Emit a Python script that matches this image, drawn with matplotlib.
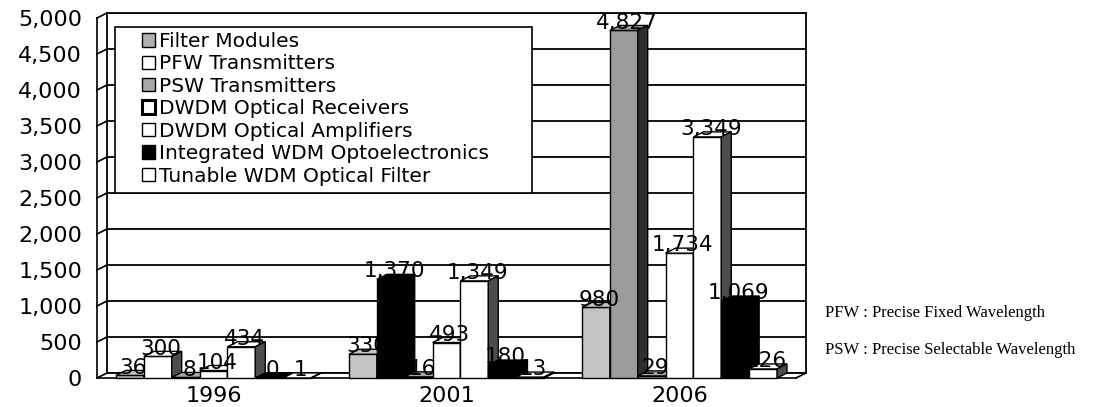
import numpy as np
import matplotlib.pyplot as plt
from matplotlib.patches import Patch, Polygon, Rectangle
from matplotlib.transforms import ScaledTranslation
from matplotlib.colors import to_rgb

# data
years = ['1996', '2001', '2006']
series = ['Filter Modules', 'PFW Transmitters', 'PSW Transmitters',
          'DWDM Optical Receivers', 'DWDM Optical Amplifiers',
          'Integrated WDM Optoelectronics', 'Tunable WDM Optical Filter']
filter_modules = [36, 330, 980]
pfw_tx = [300, 1370, 4827]
psw_tx = [8, 16, 29]
dwdm_rx = [104, 493, 1734]
dwdm_amp = [434, 1349, 3349]
integrated = [0, 180, 1069]
tunable = [1, 13, 126]
values = [filter_modules, pfw_tx, psw_tx, dwdm_rx, dwdm_amp, integrated, tunable]
yticks = np.arange(0, 5001, 500)
notes = ['PFW : Precise Fixed Wavelength', 'PSW : Precise Selectable Wavelength']

# colours (scanned print, so a few bars differ from the legend)
legend_fc = ['#b0b0b0', 'white', '#a8a8a8', 'white', 'white', 'black', 'white']
bar_fc = [['#c4c4c4'] * 3, ['white', 'black', '#9c9c9c'], ['#a8a8a8'] * 3,
          ['white'] * 3, ['white'] * 3, ['black'] * 3, ['white'] * 3]

W, H = 1118, 407
L, R, T, B = 107, 806, 13, 373   # back wall in pixels
fig = plt.figure(figsize=(W / 100, H / 100), dpi=100)
ax = fig.add_axes([L / W, 1 - B / H, (R - L) / W, (B - T) / H])
ax.set_xlim(-0.5, 2.5)
ax.set_ylim(0, 5000)

# depth of the 3d box in data units
DX = 10 / ((R - L) / 3)
DY = 5 / ((B - T) / 5000)

ax.set_yticks(yticks)
ax.set_yticklabels([f'{v:,}' for v in yticks], fontsize=16)
ax.tick_params(axis='y', length=0, pad=18)
for lab in ax.get_yticklabels():
    lab.set_transform(lab.get_transform() + ScaledTranslation(0, -5 / 100, fig.dpi_scale_trans))
ax.set_xticks([g - DX for g in range(len(years))])
ax.set_xticklabels(years, fontsize=16)
ax.tick_params(axis='x', length=0, pad=9)
ax.yaxis.grid(True, color='black', lw=1.3)
ax.set_axisbelow(True)
for sp in ax.spines.values():
    sp.set_color('black')
    sp.set_linewidth(1.3)

# left wall and floor
box = dict(color='black', lw=1.2, clip_on=False, zorder=1)
for v in yticks:
    ax.plot([-0.5, -0.5 - DX], [v, v - DY], **box)
ax.plot([-0.5 - DX] * 2, [-DY, 5000 - DY], **box)
ax.plot([-0.5 - DX, 2.5 - DX], [-DY, -DY], **box)
ax.plot([2.5 - DX, 2.5], [-DY, 0], **box)


def shade(c, f):
    r, g, b = to_rgb(c)
    return (r * f, g * f, b * f)


w = 0.837 / len(series)
z = 3
for g in range(len(years)):
    for s in range(len(series)):
        h = values[s][g]
        fc = bar_fc[s][g]
        x0 = g - 3.5 * w + s * w - DX
        ax.add_patch(Rectangle((x0, -DY), w, h, fc=fc, ec='black', lw=1, clip_on=False, zorder=z))
        ax.add_patch(Polygon([(x0, h - DY), (x0 + w, h - DY), (x0 + w + DX, h), (x0 + DX, h)],
                             fc=fc, ec='black', lw=1, clip_on=False, zorder=z))
        ax.add_patch(Polygon([(x0 + w, -DY), (x0 + w + DX, 0), (x0 + w + DX, h), (x0 + w, h - DY)],
                             fc=shade(fc, 0.3), ec='black', lw=1, clip_on=False, zorder=z))
        ax.text(x0 + w / 2 + DX / 3, h + 40, f'{h:,}', ha='center', va='center',
                fontsize=15.5, zorder=10, clip_on=False)
        z += 0.01

# legend box
fig.add_artist(Rectangle((115 / W, 1 - 193 / H), (532 - 115) / W, (193 - 27) / H,
                         transform=fig.transFigure, fc='white', ec='black', lw=1.2, zorder=4))
handles = [Patch(fc=legend_fc[i], ec='black', lw=2.2 if i == 3 else 1) for i in range(len(series))]
fig.legend(handles, series, loc='upper left', bbox_to_anchor=(142 / W, 1 - 32 / H),
           frameon=False, fontsize=14.5, handlelength=0.65, handleheight=0.65,
           handletextpad=0.2, labelspacing=0.17, borderaxespad=0, borderpad=0)

fig.text(825 / W, 1 - 313 / H, notes[0], family='Liberation Serif', fontsize=12, va='center')
fig.text(825 / W, 1 - 350 / H, notes[1], family='Liberation Serif', fontsize=12, va='center')

fig.savefig('out.png', dpi=100)
